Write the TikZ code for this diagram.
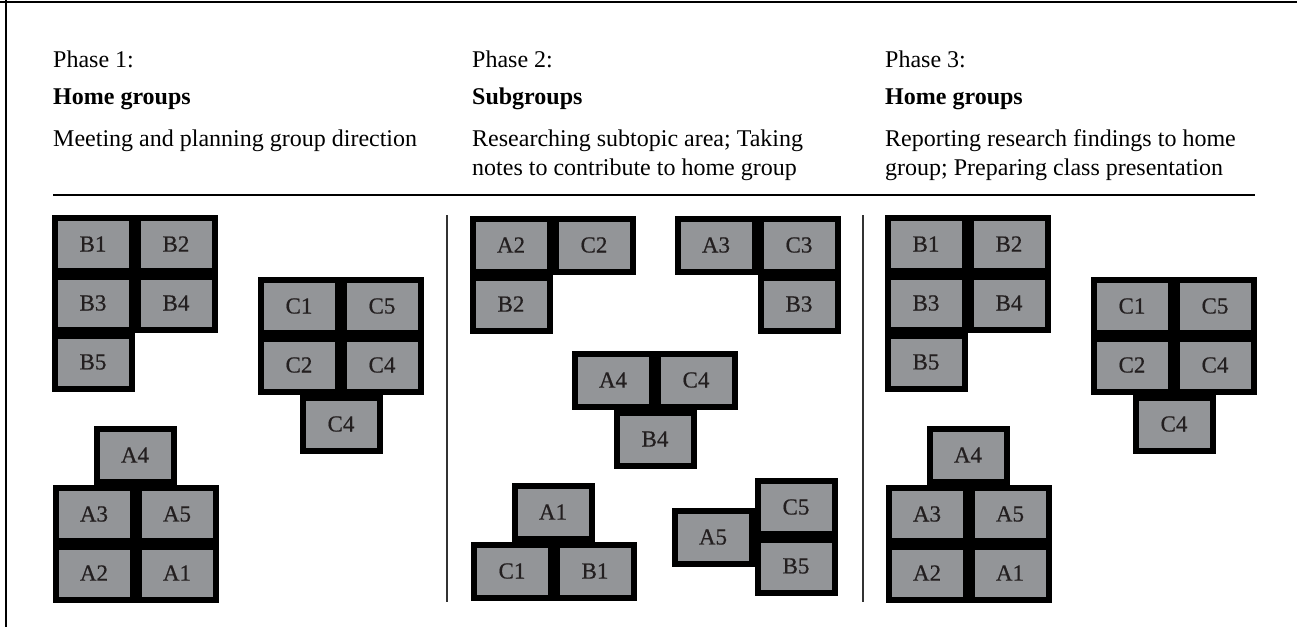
\documentclass[tikz,border=0pt]{standalone}
\usepackage{fontspec}
\setmainfont{Liberation Serif}
\newfontface\tilefont{Liberation Serif}[FakeBold=0.6]
\definecolor{tilegray}{HTML}{939598}
\definecolor{tiletext}{HTML}{231F20}
\tikzset{
  tile/.style={rectangle,draw=black,line width=6pt,fill=tilegray,
    minimum width=77pt,minimum height=53pt,inner sep=0pt,
    text=tiletext,font=\tilefont\fontsize{23}{26}\selectfont},
  head/.style={anchor=base west,inner sep=0pt,font=\fontsize{24}{29}\selectfont},
}

\begin{document}
\begin{tikzpicture}[x=1pt,y=-1pt]
\useasboundingbox (0,0) rectangle (1297,627);
% frame and rules
\draw[line width=2.8pt] (0,2) -- (1297,2);
\draw[line width=2.8pt] (6,0) -- (6,627);
\draw[line width=1.3pt] (53,195) -- (1255,195);
\draw[line width=1.2pt,black!80] (447,215) -- (447,602);
\draw[line width=1.2pt,black!80] (863,215) -- (863,602);

% headings
\node[head] (h1a) at (53,67) {Phase 1:};
\node[head] (h1b) at (53,104) {\bfseries Home groups};
\node[head] (h1c) at (53,146) {Meeting and planning group direction};
\node[head] (h2a) at (472,67) {Phase 2:};
\node[head] (h2b) at (472,104) {\bfseries Subgroups};
\node[head] (h2c) at (472,146) {Researching subtopic area; Taking};
\node[head] (h2d) at (472,175) {notes to contribute to home group};
\node[head] (h3a) at (885,67) {Phase 3:};
\node[head] (h3b) at (885,104) {\bfseries Home groups};
\node[head] (h3c) at (885,146) {Reporting research findings to home};
\node[head] (h3d) at (885,175) {group; Preparing class presentation};

% phase 1
\node[tile] (p1b1) at (93,244) {B1};
\node[tile] (p1b2) at (176,244) {B2};
\node[tile] (p1b3) at (93,303) {B3};
\node[tile] (p1b4) at (176,303) {B4};
\node[tile] (p1b5) at (93,362) {B5};
\node[tile] (p1c1) at (299,306) {C1};
\node[tile] (p1c5) at (382,306) {C5};
\node[tile] (p1c2) at (299,365) {C2};
\node[tile] (p1c4) at (382,365) {C4};
\node[tile] (p1c4x) at (341,424) {C4};
\node[tile] (p1a4) at (135,455) {A4};
\node[tile] (p1a3) at (94,514) {A3};
\node[tile] (p1a5) at (177,514) {A5};
\node[tile] (p1a2) at (94,573) {A2};
\node[tile] (p1a1) at (177,573) {A1};

% phase 2
\node[tile] (p2a2) at (511,245) {A2};
\node[tile] (p2c2) at (594,245) {C2};
\node[tile] (p2b2) at (511,304) {B2};
\node[tile] (p2a3) at (716,245) {A3};
\node[tile] (p2c3) at (799,245) {C3};
\node[tile] (p2b3) at (799,304) {B3};
\node[tile] (p2a4) at (613,380) {A4};
\node[tile] (p2c4) at (696,380) {C4};
\node[tile] (p2b4) at (655,439) {B4};
\node[tile] (p2a1) at (553,512) {A1};
\node[tile] (p2c1) at (512,571) {C1};
\node[tile] (p2b1) at (595,571) {B1};
\node[tile] (p2a5) at (713,537) {A5};
\node[tile] (p2c5) at (796,507) {C5};
\node[tile] (p2b5) at (796,566) {B5};

% phase 3
\node[tile] (p3b1) at (926,244) {B1};
\node[tile] (p3b2) at (1009,244) {B2};
\node[tile] (p3b3) at (926,303) {B3};
\node[tile] (p3b4) at (1009,303) {B4};
\node[tile] (p3b5) at (926,362) {B5};
\node[tile] (p3c1) at (1132,306) {C1};
\node[tile] (p3c5) at (1215,306) {C5};
\node[tile] (p3c2) at (1132,365) {C2};
\node[tile] (p3c4) at (1215,365) {C4};
\node[tile] (p3c4x) at (1174,424) {C4};
\node[tile] (p3a4) at (968,455) {A4};
\node[tile] (p3a3) at (927,514) {A3};
\node[tile] (p3a5) at (1010,514) {A5};
\node[tile] (p3a2) at (927,573) {A2};
\node[tile] (p3a1) at (1010,573) {A1};
\end{tikzpicture}
\end{document}
